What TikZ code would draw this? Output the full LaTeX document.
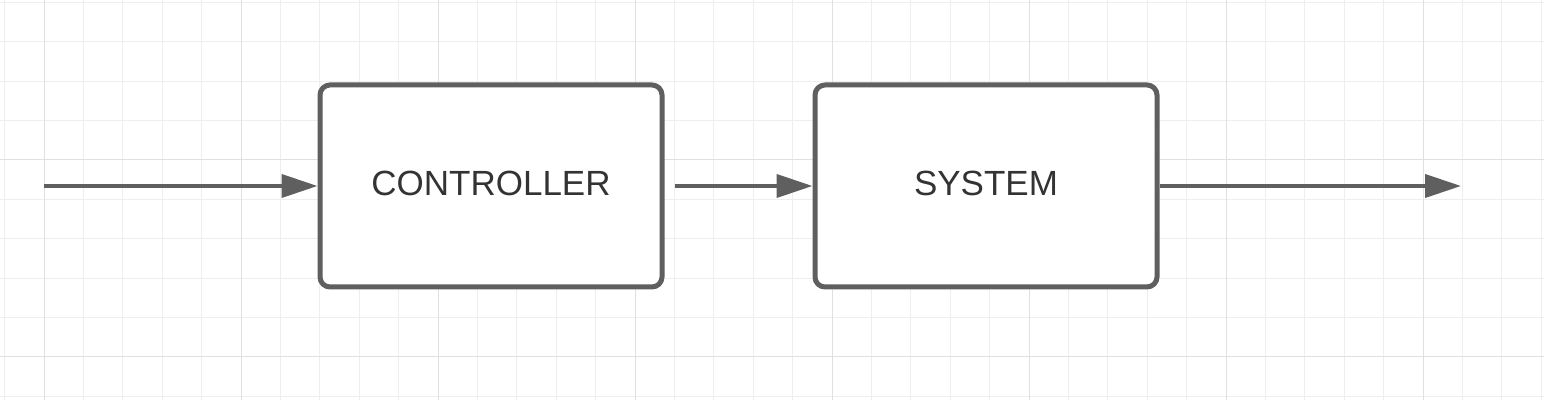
\documentclass[tikz,border=0pt]{standalone}
\usepackage{fontspec}
\setmainfont{Liberation Sans}
\usetikzlibrary{arrows.meta}
\definecolor{gridminor}{HTML}{EEEEEE}
\definecolor{gridmajor}{HTML}{E0E0E0}
\definecolor{edgecol}{HTML}{5F5F5F}
\definecolor{txtcol}{HTML}{333333}
\begin{document}
\begin{tikzpicture}[x=0.5pt,y=-0.5pt,
  gridminorline/.style={draw=gridminor, line width=0.5pt},
  gridmajorline/.style={draw=gridmajor, line width=0.5pt},
  box/.style={draw=edgecol, line width=2.5pt, rounded corners=5pt, fill=white,
    minimum width=171pt, minimum height=101pt, inner sep=0pt,
    font=\fontsize{17.5}{20}\selectfont, text=txtcol, text depth=3pt},
  conn/.style={draw=edgecol, line width=2pt, -{Triangle[length=18pt,width=11.5pt]}}]
\useasboundingbox[fill=white] (0,0) rectangle (1544,400);
% grid
\foreach \i in {0,...,39} \draw[gridminorline] ({4.6+39.4*\i},0) -- ++(0,400);
\foreach \j in {0,...,10} \draw[gridminorline] (0,{2.4+39.4*\j}) -- ++(1544,0);
\foreach \i in {0,...,7} \draw[gridmajorline] ({44+197*\i},0) -- ++(0,400);
\foreach \j in {160,357} \draw[gridmajorline] (0,\j) -- ++(1544,0);
% nodes
\node[box] (ctrl) at (491,186) {CONTROLLER};
\node[box] (sys) at (986,186) {SYSTEM};
\coordinate (in) at (44,186);
\coordinate (out) at (1461,186);
% connectors
\draw[conn] (in) -- (ctrl.west);
\draw[conn] ([xshift=5pt]ctrl.east) -- (sys.west);
\draw[conn] (sys.east) -- (out);
\end{tikzpicture}
\end{document}
